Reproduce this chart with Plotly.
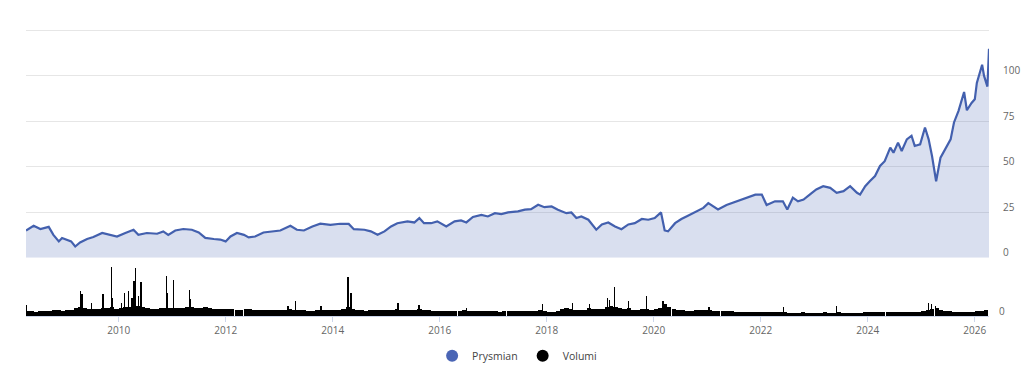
import plotly.graph_objects as go

# ---------------- data ----------------
price_dates = [
    "2008-04-08", "2008-05-30", "2008-07-15", "2008-09-10", "2008-10-12", "2008-11-18", "2008-12-10",
    "2009-01-12", "2009-02-10", "2009-03-10", "2009-04-12", "2009-05-30", "2009-07-12", "2009-09-10",
    "2009-11-01", "2009-12-20", "2010-02-15", "2010-04-12", "2010-05-15", "2010-07-12", "2010-09-20",
    "2010-11-01", "2010-12-05", "2011-01-22", "2011-03-18", "2011-05-15", "2011-07-01", "2011-08-15",
    "2011-10-12", "2011-11-25", "2012-01-01", "2012-02-03", "2012-03-18", "2012-05-05", "2012-06-06",
    "2012-07-20", "2012-09-15", "2012-11-12", "2013-01-08", "2013-03-18", "2013-05-01", "2013-06-18",
    "2013-08-15", "2013-10-08", "2013-12-16", "2014-02-20", "2014-04-20", "2014-05-25", "2014-08-05",
    "2014-09-18", "2014-11-03", "2014-12-20", "2015-02-03", "2015-03-18", "2015-05-26", "2015-07-12",
    "2015-08-15", "2015-09-16", "2015-11-03", "2015-12-16", "2016-02-15", "2016-04-12", "2016-05-26",
    "2016-07-01", "2016-08-15", "2016-10-12", "2016-11-25", "2017-01-12", "2017-02-25", "2017-04-12",
    "2017-06-18", "2017-08-05", "2017-09-16", "2017-11-03", "2017-12-16", "2018-02-03", "2018-03-18",
    "2018-05-15", "2018-06-18", "2018-07-22", "2018-08-25", "2018-10-12", "2018-11-15", "2018-12-05",
    "2019-01-12", "2019-02-25", "2019-04-12", "2019-05-26", "2019-07-12", "2019-08-25", "2019-10-12",
    "2019-11-25", "2020-01-08", "2020-02-20", "2020-03-16", "2020-04-08", "2020-05-26", "2020-07-08",
    "2020-08-15", "2020-10-20", "2020-12-05", "2021-01-08", "2021-02-10", "2021-03-15", "2021-05-12",
    "2021-07-20", "2021-09-25", "2021-11-25", "2022-01-08", "2022-02-10", "2022-04-08", "2022-06-01",
    "2022-07-01", "2022-08-08", "2022-09-12", "2022-10-20", "2022-12-01", "2023-01-15", "2023-03-03",
    "2023-04-20", "2023-06-03", "2023-07-20", "2023-09-03", "2023-10-20", "2023-11-10", "2023-12-15",
    "2024-01-15", "2024-02-20", "2024-03-25", "2024-04-26", "2024-06-03", "2024-06-25", "2024-07-26",
    "2024-08-20", "2024-09-24", "2024-10-26", "2024-11-17", "2024-12-24", "2025-01-26", "2025-02-20",
    "2025-03-15", "2025-04-12", "2025-05-12", "2025-06-15", "2025-07-20", "2025-08-12", "2025-09-12",
    "2025-10-20", "2025-11-08", "2025-12-10", "2026-01-01", "2026-01-15", "2026-02-20", "2026-03-05",
    "2026-03-28", "2026-04-08",
]
price_values = [
    15.0, 17.6, 15.8, 17.0, 12.6, 9.0, 10.9,
    10.0, 9.0, 6.2, 8.4, 10.3, 11.4, 13.6,
    12.6, 11.7, 13.6, 15.4, 12.6, 13.6, 13.2,
    14.5, 12.6, 15.0, 15.8, 15.4, 13.9, 10.9,
    10.3, 10.0, 9.0, 11.7, 13.6, 12.6, 11.2,
    11.7, 13.9, 14.5, 15.0, 17.6, 15.4, 15.0,
    17.2, 18.7, 18.1, 18.7, 18.6, 15.7, 15.4,
    14.5, 12.6, 14.5, 17.2, 19.0, 20.0, 19.4,
    21.8, 19.0, 19.0, 20.0, 17.2, 20.0, 20.5,
    19.4, 22.4, 23.6, 22.7, 24.5, 24.0, 24.9,
    25.5, 26.4, 26.7, 29.1, 27.8, 28.2, 26.4,
    24.5, 24.9, 21.8, 22.7, 20.9, 17.2, 15.4,
    18.3, 19.4, 17.2, 15.7, 18.3, 19.0, 21.3,
    20.9, 21.8, 24.9, 15.0, 14.5, 19.0, 21.3,
    22.8, 25.5, 27.4, 30.0, 28.3, 26.5, 29.0,
    31.0, 33.0, 34.7, 34.7, 29.0, 31.0, 31.0,
    26.5, 33.0, 31.0, 32.0, 34.7, 37.5, 39.3,
    38.4, 35.7, 36.6, 39.3, 35.7, 34.7, 39.3,
    42.0, 44.9, 50.4, 53.0, 60.5, 57.7, 63.2,
    58.6, 65.0, 67.0, 61.4, 62.3, 71.5, 65.0,
    55.9, 42.0, 55.0, 59.6, 65.0, 74.3, 80.7,
    91.0, 81.0, 85.0, 87.0, 96.0, 106.0, 100.0,
    94.0, 114.7,
]

# monthly base volume level, April 2008 .. March 2026
volume_months = [f"{y}-{m:02d}" for y in range(2008, 2027) for m in range(1, 13)
                 if (y, m) >= (2008, 4) and (y, m) <= (2026, 3)]
volume_base = [
    1.1, 1.0, 0.9, 1.0, 1.0, 1.1, 1.3, 1.2, 1.1,
    1.2, 1.3, 1.6, 1.8, 1.6, 1.5, 1.4, 1.5, 1.6, 1.6, 1.8, 1.5,
    1.7, 1.8, 1.9, 2.0, 2.0, 1.8, 1.6, 1.5, 1.5, 1.6, 1.7, 1.6,
    1.7, 1.6, 1.7, 1.8, 1.9, 1.7, 1.6, 1.8, 1.6, 1.5, 1.5, 1.4,
    1.4, 1.4, 1.3, 1.3, 1.4, 1.4, 1.3, 1.2, 1.3, 1.2, 1.2, 1.2,
    1.2, 1.3, 1.4, 1.3, 1.3, 1.2, 1.1, 1.1, 1.2, 1.3, 1.2, 1.2,
    1.2, 1.3, 1.4, 1.8, 1.4, 1.2, 1.2, 1.1, 1.2, 1.3, 1.3, 1.2,
    1.3, 1.3, 1.4, 1.3, 1.2, 1.3, 1.3, 1.4, 1.2, 1.2, 1.1, 1.1,
    1.1, 1.1, 1.0, 1.0, 1.0, 1.2, 1.1, 1.0, 1.0, 1.0, 1.0, 1.0,
    1.0, 0.9, 1.0, 1.0, 1.0, 1.1, 1.0, 1.0, 1.1, 1.1, 1.2, 1.1,
    0.9, 0.9, 1.0, 1.5, 1.6, 1.4, 1.3, 1.2, 1.3, 1.6, 1.5, 1.4,
    1.5, 1.8, 2.0, 1.8, 1.6, 1.5, 1.6, 1.3, 1.3, 1.4, 1.5, 1.3,
    1.4, 1.6, 2.4, 1.8, 1.5, 1.3, 1.2, 1.1, 1.1, 1.2, 1.3, 1.2,
    1.2, 1.1, 1.1, 1.0, 1.0, 1.0, 0.9, 0.9, 0.9, 0.8, 0.8, 0.8,
    0.8, 0.9, 0.9, 0.8, 0.8, 0.8, 0.7, 0.7, 0.7, 0.8, 0.7, 0.7,
    0.7, 0.7, 0.8, 0.7, 0.7, 0.8, 0.7, 0.7, 0.7, 0.7, 0.7, 0.8,
    0.8, 0.8, 0.9, 0.8, 0.9, 0.9, 0.8, 0.8, 0.9, 0.9, 0.8, 0.9,
    1.0, 1.2, 1.5, 1.6, 1.3, 1.1, 1.0, 0.9, 0.9, 0.9, 0.9, 0.9,
    1.0, 1.1, 1.2,
]

# single-day volume spikes
spike_dates = [
    "2008-04-10", "2009-04-15", "2009-04-25", "2009-07-01", "2009-09-16", "2009-11-12", "2009-11-18",
    "2010-01-20", "2010-02-10", "2010-03-08", "2010-04-01", "2010-04-16", "2010-04-27", "2010-05-15",
    "2010-06-03", "2010-11-22", "2010-11-26", "2011-01-12", "2011-04-28", "2011-05-05", "2013-03-01",
    "2013-04-22", "2013-10-12", "2014-04-16", "2014-04-20", "2014-05-05", "2015-03-22", "2015-08-12",
    "2016-06-30", "2017-12-05", "2018-06-25", "2018-10-20", "2019-02-20", "2019-03-05", "2019-04-10",
    "2019-07-12", "2019-11-12", "2020-03-05", "2021-01-12", "2022-06-03", "2023-06-03", "2025-02-20",
    "2025-03-10", "2025-04-08",
]
spike_values = [
    2.2, 5.1, 4.4, 2.7, 4.4, 9.9, 3.7,
    2.7, 4.6, 5.1, 3.7, 7.1, 9.7, 4.1,
    6.9, 8.1, 4.7, 7.3, 5.3, 3.4, 2.1,
    3.1, 2.0, 7.9, 7.1, 4.6, 2.7, 2.3,
    1.7, 2.4, 2.7, 2.4, 3.7, 3.3, 5.9,
    3.1, 4.1, 3.1, 1.9, 1.9, 2.1, 2.7,
    2.4, 2.1,
]

year_ticks = [f"{y}-01-01" for y in range(2010, 2027, 2)]
year_labels = [str(y) for y in range(2010, 2027, 2)]
price_ticks = [0, 25, 50, 75, 100, 125]
price_tick_text = ["0", "25", "50", "75", "100", ""]

# ---------------- figure ----------------
BLUE = "#4360ae"
FONT = "Open Sans"
GREY = "#666666"
DAY_MS = 86400000

fig = go.Figure()

fig.add_trace(go.Scatter(
    x=price_dates, y=price_values, mode="lines", name="Prysmian",
    line=dict(color=BLUE, width=2.2), fill="tozeroy",
    fillcolor="rgba(67,96,174,0.2)", showlegend=False,
    xaxis="x", yaxis="y",
))

fig.add_trace(go.Bar(
    x=volume_months, y=volume_base, name="Volumi", xperiod="M1",
    xperiodalignment="middle", marker=dict(color="black", line=dict(width=0)),
    showlegend=False, xaxis="x2", yaxis="y2",
))
fig.add_trace(go.Bar(
    x=spike_dates, y=spike_values, name="Volumi", width=2 * DAY_MS,
    marker=dict(color="black", line=dict(width=0)),
    showlegend=False, xaxis="x2", yaxis="y2",
))

# legend entries (circle symbols)
fig.add_trace(go.Scatter(x=[None], y=[None], mode="markers", name="Prysmian",
                         marker=dict(color="#4a65b5", size=10, symbol="circle")))
fig.add_trace(go.Scatter(x=[None], y=[None], mode="markers", name="Volumi",
                         marker=dict(color="black", size=10, symbol="circle")))

x_range = ["2008-04-08", "2026-04-08"]

fig.update_layout(
    width=1024, height=369,
    margin=dict(l=26, r=35, t=29, b=53, autoexpand=False),
    paper_bgcolor="white", plot_bgcolor="white",
    font=dict(family=FONT, size=10, color=GREY),
    barmode="overlay", bargap=0,
    xaxis=dict(domain=[0, 1], range=x_range, type="date", matches="x2",
               showticklabels=False, showgrid=False, zeroline=False, showline=False,
               anchor="y", automargin=False),
    yaxis=dict(domain=[0.2028, 1], range=[0, 125.6], side="right",
               tickvals=price_ticks, ticktext=price_tick_text,
               showgrid=True, gridcolor="#e6e6e6", gridwidth=1, zeroline=False,
               ticklabelstandoff=13, ticklabelshift=-5, automargin=False,
               tickfont=dict(size=10, color=GREY), anchor="x"),
    xaxis2=dict(domain=[0, 1], range=x_range, type="date",
                tickvals=year_ticks, ticktext=year_labels,
                showgrid=False, zeroline=False, showline=True, linecolor="#ccd6eb",
                ticks="outside", ticklen=5, tickcolor="#ccd6eb", automargin=False,
                tickfont=dict(size=10, color=GREY), anchor="y2"),
    yaxis2=dict(domain=[0, 0.2], range=[0, 11.5], side="right",
                tickvals=[0], ticktext=["0"], showgrid=False, zeroline=False,
                ticklabelstandoff=9, ticklabelshift=-5, automargin=False,
                tickfont=dict(size=10, color=GREY), anchor="x2"),
    legend=dict(orientation="h", x=0.505, xanchor="center", xref="container",
                y=0.036, yanchor="middle", yref="container",
                font=dict(size=10.5, color="#444444", family=FONT),
                itemsizing="constant", itemwidth=30, bgcolor="rgba(0,0,0,0)"),
    showlegend=True,
)

fig.write_html("out.html")
